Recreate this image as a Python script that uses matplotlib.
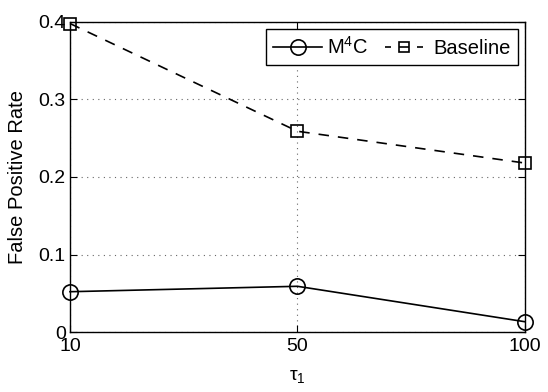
import matplotlib
matplotlib.use("Agg")
import matplotlib.pyplot as plt
from matplotlib.lines import Line2D

# data
tau_labels = ["10", "50", "100"]
m4c_fpr = [0.052, 0.059, 0.0133]
baseline_fpr = [0.398, 0.259, 0.218]
y_ticks = [0, 0.1, 0.2, 0.3, 0.4]
y_tick_labels = ["0", "0.1", "0.2", "0.3", "0.4"]

plt.rcParams["font.family"] = ["Liberation Sans", "DejaVu Sans"]
plt.rcParams["mathtext.fontset"] = "custom"
plt.rcParams["mathtext.rm"] = "Liberation Sans"
plt.rcParams["mathtext.it"] = "Liberation Sans"

fig = plt.figure(figsize=(5.48, 3.92), dpi=100)
ax = fig.add_axes([0.1277, 0.153, 0.830, 0.791])

xs = list(range(len(tau_labels)))
ax.plot(xs, m4c_fpr, color="black", linestyle="-", linewidth=1.2,
        marker="o", markersize=11, markerfacecolor="none", markeredgewidth=1.2,
        clip_on=False, zorder=3)
ax.plot(xs, baseline_fpr, color="black", linestyle=(0, (6.3, 5.4)), linewidth=1.2,
        marker="s", markersize=8, markerfacecolor="none", markeredgewidth=1.2,
        clip_on=False, zorder=3)

ax.set_xlim(0, len(tau_labels) - 1)
ax.set_ylim(0, 0.4)
ax.set_xticks(xs)
ax.set_xticklabels(tau_labels)
ax.set_yticks(y_ticks)
ax.set_yticklabels(y_tick_labels)

ax.grid(True, linestyle=(0, (1, 4)), color="#666666", linewidth=0.8)
ax.tick_params(direction="in", top=True, right=True, labelsize=14, length=5)
ax.tick_params(axis="x", pad=4)
ax.tick_params(axis="y", pad=3)
for s in ax.spines.values():
    s.set_linewidth(1.0)

ax.set_xlabel("τ$_1$", fontsize=14, labelpad=10)
ax.set_ylabel("False Positive Rate", fontsize=14.5, labelpad=8)

# legend proxies (MATLAB-like short dashes around the square)
handles = [
    Line2D([], [], color="black", linestyle="-", linewidth=1.2, marker="o",
           markersize=11, markerfacecolor="none", markeredgewidth=1.2),
    Line2D([], [], color="black", linestyle=(0, (0, 3, 3.6, 4.8, 6, 4.8, 3.6, 60)),
           linewidth=1.2, marker="s", markersize=7, markerfacecolor="none",
           markeredgewidth=1.2),
]
leg = ax.legend(handles, ["M$^4$C", "Baseline"], loc="upper right", ncol=2,
                fontsize=14.5, fancybox=False, framealpha=1, edgecolor="black",
                handlelength=2.4, columnspacing=0.6, handletextpad=0.25,
                borderaxespad=0.35, borderpad=0.35)
leg.get_frame().set_linewidth(1.0)

fig.savefig("out.png", dpi=100)
